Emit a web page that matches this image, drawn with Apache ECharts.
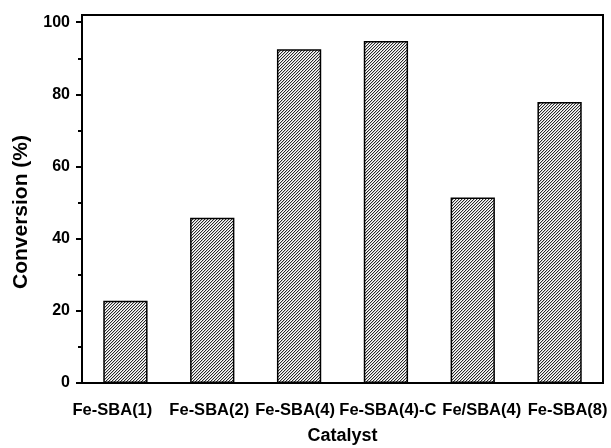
<!DOCTYPE html>
<html>
<head>
<meta charset="utf-8">
<script src="https://cdn.jsdelivr.net/npm/echarts@6/dist/echarts.min.js"></script>
<style>html,body{margin:0;padding:0;background:#fff}#c{width:611px;height:448px}</style>
</head>
<body>
<div id="c"></div>
<script>
const categories = ['Fe-SBA(1)', 'Fe-SBA(2)', 'Fe-SBA(4)', 'Fe-SBA(4)-C', 'Fe/SBA(4)', 'Fe-SBA(8)'];
const conversion = [22.8, 45.8, 92.5, 94.8, 51.4, 77.9];
const yTicks = [0, 20, 40, 60, 80, 100];
const yMinorTicks = [10, 30, 50, 70, 90];

function hatch() {
  const s = 3;
  const c = document.createElement('canvas');
  c.width = s; c.height = s;
  const g = c.getContext('2d');
  g.fillStyle = '#fff';
  g.fillRect(0, 0, s, s);
  for (let x = 0; x < s; x++) {
    for (let y = 0; y < s; y++) {
      const k = (x + y) % s;
      if (k === 0) { g.fillStyle = '#2a2a2a'; g.fillRect(x, y, 1, 1); }
      else if (k === 1) { g.fillStyle = '#c8c8c8'; g.fillRect(x, y, 1, 1); }
    }
  }
  return c;
}

const font = 'Liberation Sans, Arial, sans-serif';
const labelShift = [-13, -3, -4, 2, 9, 8];
const xData = categories.map((c, i) => ({
  value: c,
  textStyle: {padding: labelShift[i] < 0 ? [0, -2 * labelShift[i], 0, 0] : [0, 0, 0, 2 * labelShift[i]]}
}));

const chart = echarts.init(document.getElementById('c'), null, {renderer: 'canvas'});
chart.setOption({
  animation: false,
  grid: {left: 82, right: 8, top: 15, bottom: 65, outerBoundsMode: 'none', containLabel: false, show: true, borderColor: '#000', borderWidth: 2, backgroundColor: 'transparent'},
  xAxis: {
    type: 'category',
    data: xData,
    name: 'Catalyst',
    nameLocation: 'middle',
    nameGap: 44,
    nameTextStyle: {fontFamily: font, fontWeight: 'bold', fontSize: 18, color: '#000'},
    axisLine: {lineStyle: {color: '#000', width: 2}},
    axisTick: {show: false},
    axisLabel: {interval: 0, margin: 19, fontFamily: font, fontWeight: 'bold', fontSize: 16.5, color: '#000'},
    splitLine: {show: false}
  },
  yAxis: [{
    type: 'value',
    min: 0, max: 102,
    name: 'Conversion (%)',
    nameLocation: 'middle',
    nameGap: 50,
    nameTextStyle: {fontFamily: font, fontWeight: 'bold', fontSize: 21, color: '#000', padding: [0, 26, 0, 0]},
    axisLine: {show: true, lineStyle: {color: '#000', width: 2}},
    axisTick: {show: true, length: 6, lineStyle: {color: '#000', width: 2}, customValues: yTicks},
    axisLabel: {margin: 12, fontFamily: font, fontWeight: 'bold', fontSize: 16, color: '#000', customValues: yTicks},
    splitLine: {show: false}
  }, {
    type: 'value',
    position: 'left',
    min: 0, max: 102,
    axisLine: {show: false},
    axisTick: {show: true, length: 4, lineStyle: {color: '#000', width: 2}, customValues: yMinorTicks},
    axisLabel: {show: false, customValues: yMinorTicks},
    splitLine: {show: false}
  }],
  series: [{
    type: 'bar',
    data: conversion,
    barWidth: '51%',
    itemStyle: {color: {image: hatch(), repeat: 'repeat'}, borderColor: '#000', borderWidth: 1.5}
  }]
});
</script>
</body>
</html>
